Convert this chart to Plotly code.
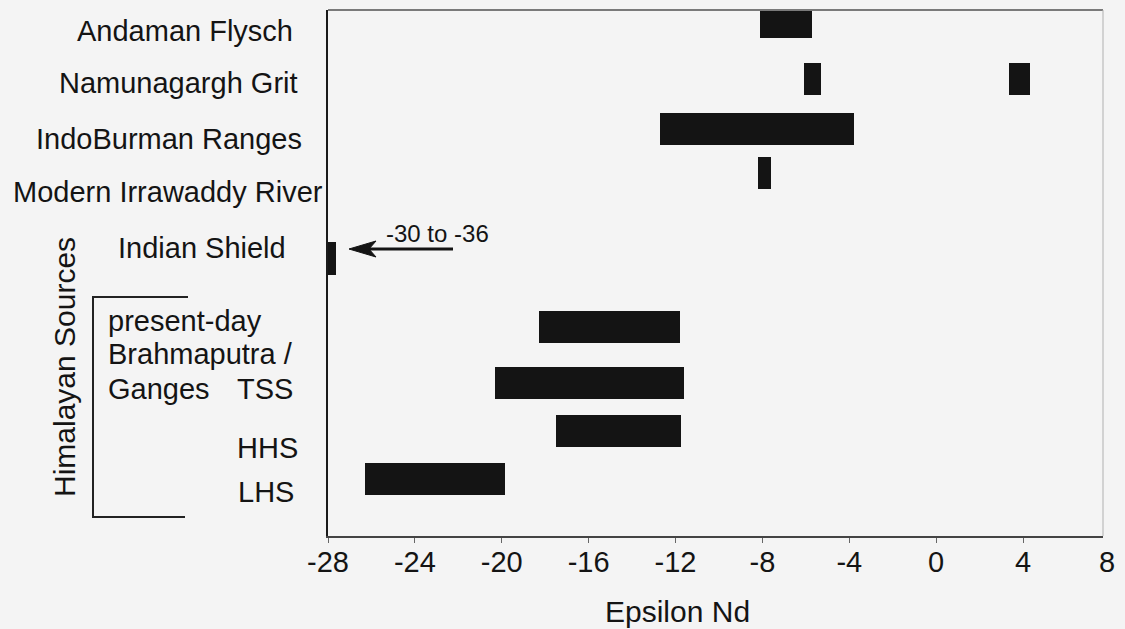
import plotly.graph_objects as go

# Epsilon Nd ranges of potential sediment sources
sources = ["Andaman Flysch", "Namunagargh Grit", "Namunagargh Grit", "IndoBurman Ranges",
           "Modern Irrawaddy River", "present-day Brahmaputra / Ganges", "TSS", "HHS", "LHS"]
eps_low = [-8.1, -6.1, 3.35, -12.7, -8.2, -18.3, -20.3, -17.5, -26.3]
eps_high = [-5.7, -5.3, 4.3, -3.8, -7.6, -11.8, -11.6, -11.75, -19.85]

# Indian Shield lies off the scale
indian_shield_low = -36
indian_shield_high = -30

tick_values = [-28, -24, -20, -16, -12, -8, -4, 0, 4, 8]

# ---- layout geometry (pixels) ----
FIG_W, FIG_H = 1125, 629
L, R, T, B = 328, 1103, 10, 536
PX_PER_UNIT = 21.72
X_MIN = -28
X_MAX = X_MIN + (R - L) / PX_PER_UNIT

# vertical row centres, in pixels below the top of the plotting frame
row_pos = {
    "Andaman Flysch": 23,
    "Namunagargh Grit": 80,
    "IndoBurman Ranges": 130,
    "Modern Irrawaddy River": 174,
    "Indian Shield": 237.5,
    "present-day Brahmaputra / Ganges": 327.5,
    "TSS": 384,
    "HHS": 431.5,
    "LHS": 480,
}
BAR_THICK = 32

FONT = "Liberation Sans, Arial, Helvetica, sans-serif"
INK = "#141414"
BG = "#f4f4f4"


def xp(px):
    return (px - L) / (R - L)


def yp(py):
    return (B - py) / (B - T)


def xd(px):
    return X_MIN + (px - L) / PX_PER_UNIT


def yd(py):
    return py - T


fig = go.Figure()

fig.add_trace(go.Bar(
    orientation="h",
    y=[row_pos[s] for s in sources],
    base=eps_low,
    x=[h - l for l, h in zip(eps_low, eps_high)],
    width=BAR_THICK,
    marker=dict(color=INK, line=dict(width=0)),
    hoverinfo="skip",
))

# off-scale stub for the Indian Shield at the left edge of the axis
fig.add_trace(go.Bar(
    orientation="h",
    y=[row_pos["Indian Shield"]],
    base=[X_MIN],
    x=[0.37],
    width=33,
    marker=dict(color=INK, line=dict(width=0)),
    hoverinfo="skip",
))

annotations = []


def label(text, px, py, anchor="right", size=29, angle=0):
    annotations.append(dict(
        text=text, xref="paper", yref="paper", x=xp(px), y=yp(py),
        xanchor=anchor, yanchor="middle", showarrow=False, textangle=angle,
        font=dict(family=FONT, size=size, color=INK),
    ))


label("Andaman Flysch", 295, 31)
label("Namunagargh Grit", 300, 83)
label("IndoBurman Ranges", 304, 139)
label("Modern Irrawaddy River", 325, 192)
label("Indian Shield", 288, 248)
label("present-day", 106, 321, anchor="left")
label("Brahmaputra /", 106, 354, anchor="left")
label("Ganges", 106, 389, anchor="left")
label("TSS", 295, 389)
label("HHS", 300, 448)
label("LHS", 296, 492)
label("Himalayan Sources", 64, 367, anchor="center", size=30, angle=-90)

# axis title and the final tick label
label("Epsilon Nd", 677, 611, anchor="center", size=30)
annotations.append(dict(
    text=str(tick_values[-1]), xref="paper", yref="paper", x=xp(1107), y=yp(562),
    xanchor="center", yanchor="middle", showarrow=False,
    font=dict(family=FONT, size=29, color=INK),
))

# range note for the off-scale Indian Shield
annotations.append(dict(
    text=f"{indian_shield_high} to {indian_shield_low}", xref="paper", yref="paper",
    x=xp(437), y=yp(233), xanchor="center", yanchor="middle", showarrow=False,
    font=dict(family=FONT, size=24, color=INK),
))

shapes = [
    # top and right frame lines
    dict(type="line", xref="paper", yref="paper", x0=0, x1=1, y0=1, y1=1,
         line=dict(color="#7a7a7a", width=2)),
    dict(type="line", xref="paper", yref="paper", x0=1, x1=1, y0=0, y1=1,
         line=dict(color="#b0b0b0", width=1)),
    # bracket grouping the Himalayan sources
    dict(type="path", xref="paper", yref="paper",
         path=f"M{xp(188)},{yp(297)} L{xp(93)},{yp(297)} L{xp(93)},{yp(517)} L{xp(185)},{yp(517)}",
         line=dict(color="#222222", width=2)),
    # arrow shaft and head pointing towards the off-scale values
    dict(type="line", xref="x", yref="y", x0=xd(453), x1=xd(368), y0=yd(249), y1=yd(249),
         line=dict(color=INK, width=3)),
    dict(type="path", xref="x", yref="y",
         path=(f"M{xd(349)},{yd(249)} L{xd(376)},{yd(241)} L{xd(369)},{yd(249)} "
               f"L{xd(376)},{yd(257)} Z"),
         fillcolor=INK, line=dict(color=INK, width=1)),
]

fig.update_layout(
    width=FIG_W, height=FIG_H,
    margin=dict(l=L, r=FIG_W - R, t=T, b=FIG_H - B),
    paper_bgcolor=BG, plot_bgcolor=BG,
    showlegend=False,
    bargap=0,
    annotations=annotations,
    shapes=shapes,
    font=dict(family=FONT, color=INK),
)

fig.update_xaxes(
    range=[X_MIN, X_MAX],
    tickvals=tick_values[:-1],
    ticktext=[str(v) for v in tick_values[:-1]],
    ticks="outside", ticklen=5, tickwidth=1, tickcolor="#666666",
    ticklabelstandoff=-6,
    tickfont=dict(family=FONT, size=29, color=INK),
    showline=True, linecolor="#444444", linewidth=1.5,
    showgrid=False, zeroline=False, fixedrange=True,
)
fig.update_yaxes(
    range=[B - T, 0],
    showticklabels=False, ticks="",
    showline=True, linecolor="#1a1a1a", linewidth=1.5,
    showgrid=False, zeroline=False, fixedrange=True,
)

fig.write_html("out.html")
